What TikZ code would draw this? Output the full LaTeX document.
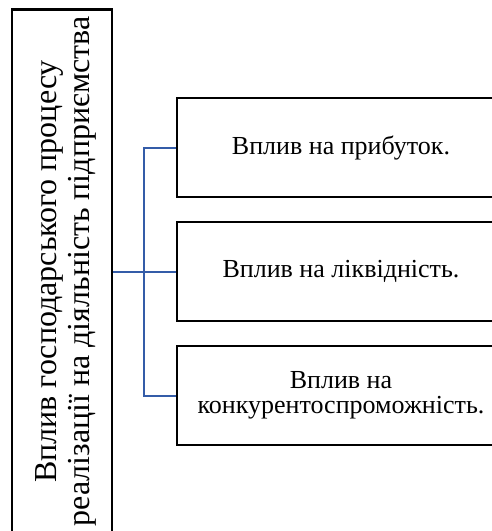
\documentclass[tikz,border=0pt]{standalone}
\usepackage{fontspec}
\setmainfont{Liberation Serif}
\definecolor{linkblue}{RGB}{52,92,168}
\begin{document}
\begin{tikzpicture}[x=1pt,y=-1pt,
  boxstyle/.style={draw=black, line width=2.4pt, inner sep=0pt},
  sidebox/.style={boxstyle, minimum width=328pt, minimum height=99pt, align=center,
    font=\fontsize{26}{25.5}\selectfont},
  link/.style={draw=linkblue, line width=2pt}]
\clip (0,0) rectangle (492,531);
\fill[white] (0,0) rectangle (492,531);
\node[boxstyle, minimum width=100pt, minimum height=524pt] (L) at (62,271.5) {};
\node[rotate=90, align=center, inner sep=0pt, font=\fontsize{32}{33.3}\selectfont]
  (Lt) at ([xshift=4pt]L.center) {Вплив господарського процесу\\реалізації на діяльність підприємства};
\node[sidebox] (A) at (341,147.5) {Вплив на прибуток.};
\node[sidebox] (B) at (341,271.5) {Вплив на ліквідність.};
\node[sidebox] (C) at (341,395.5) {Вплив на\\конкурентоспроможність.};
\coordinate (J) at (144,271.5);
\draw[link] (L.east) -- (B.west);
\draw[link] (A.west) -| (J |- C.west) -- (C.west);
\end{tikzpicture}
\end{document}
